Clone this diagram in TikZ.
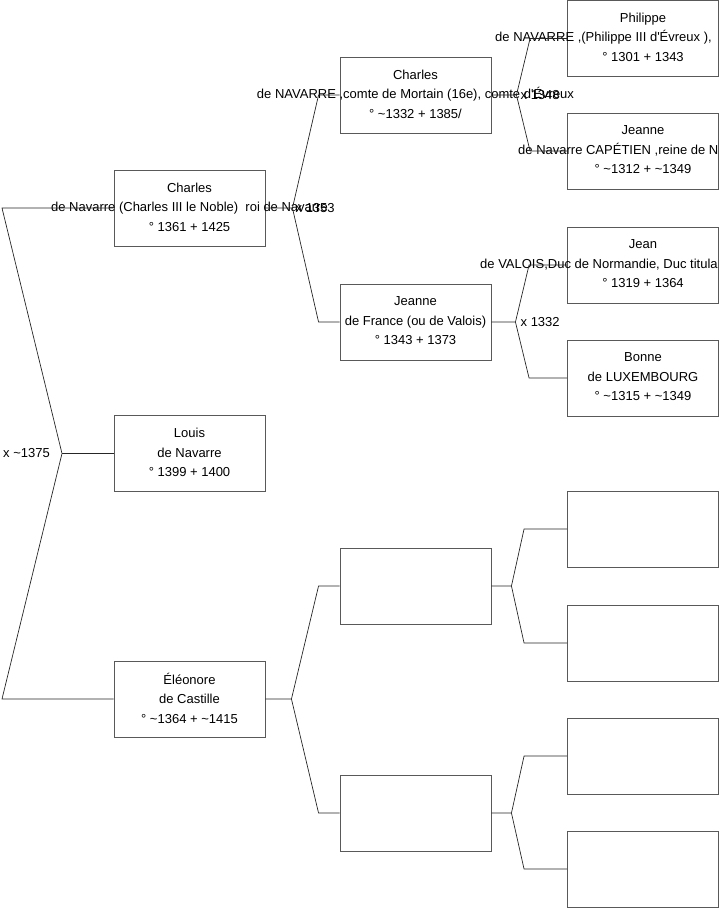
\documentclass[tikz,border=0pt]{standalone}
\usepackage{fontspec}
\setmainfont{Liberation Sans}
\usetikzlibrary{positioning,calc}

\begin{document}
\begin{tikzpicture}[
    x=1pt, y=-1pt,
    person/.style={rectangle, draw=black!65, line width=0.9pt, minimum width=151pt, minimum height=76pt, inner sep=0pt},
    txt/.style={align=center, inner sep=0pt, font=\fontsize{13}{19.5}\selectfont},
    wed/.style={inner sep=0pt, font=\fontsize{13}{15}\selectfont},
    link/.style={draw=black!85, line width=0.7pt}
]
\useasboundingbox (0,0) rectangle (719,908);

% Generation 1
\node[person] (charles) at (189.5,208) {};
\node[person] (louis) at (189.5,453.5) {};
\node[person] (eleonore) at (189.5,699) {};

% Generation 2
\node[person] (charlesII) at (415.5,95) {};
\node[person] (jeanneF) at (415.5,322) {};
\node[person] (emptyA) at (415.5,586) {};
\node[person] (emptyB) at (415.5,813) {};

% Generation 3
\node[person] (philippe) at (643,38.5) {};
\node[person] (jeanneN) at (643,151) {};
\node[person] (jean) at (643,265) {};
\node[person] (bonne) at (643,378) {};
\node[person] (emptyC) at (643,529) {};
\node[person] (emptyD) at (643,643) {};
\node[person] (emptyE) at (643,756) {};
\node[person] (emptyF) at (643,869) {};

% Names
\node[txt] (charles-t) at ([yshift=1pt]charles) {Charles\\de Navarre (Charles III le Noble)\ \ roi de Navarre\\° 1361 + 1425};
\node[txt] (louis-t) at ([yshift=1pt]louis) {Louis\\de Navarre\\° 1399 + 1400};
\node[txt] (eleonore-t) at ([yshift=1pt]eleonore) {Éléonore\\de Castille\\° \textasciitilde1364 + \textasciitilde1415};
\node[txt] (charlesII-t) at ([yshift=1pt]charlesII) {Charles\\de NAVARRE ,comte de Mortain (16e), comte d\textquotesingle Évreux\\° \textasciitilde1332 + 1385/};
\node[txt] (jeanneF-t) at ([yshift=1pt]jeanneF) {Jeanne\\de France (ou de Valois)\\° 1343 + 1373};
\node[txt] (philippe-t) at ([yshift=1pt]philippe) {Philippe\\\mbox{}\\° 1301 + 1343};
\node[txt, anchor=base west] (philippe-t2) at ($(philippe.center)+(-148,3)$) {de NAVARRE ,(Philippe III d\textquotesingle Évreux ),};
\node[txt] (jeanneN-t) at ([yshift=1pt]jeanneN) {Jeanne\\\mbox{}\\° \textasciitilde1312 + \textasciitilde1349};
\node[txt, anchor=base west] (jeanneN-t2) at ($(jeanneN.center)+(-125,3)$) {de Navarre CAPÉTIEN ,reine de N};
\node[txt] (jean-t) at ([yshift=1pt]jean) {Jean\\\mbox{}\\° 1319 + 1364};
\node[txt, anchor=base west] (jean-t2) at ($(jean.center)+(-163,3)$) {de VALOIS,Duc de Normandie, Duc titula};
\node[txt] (bonne-t) at ([yshift=1pt]bonne) {Bonne\\de LUXEMBOURG\\° \textasciitilde1315 + \textasciitilde1349};

% Forks
\coordinate (root) at (62,453.5);
\coordinate (rootup) at (2,208);
\coordinate (rootdn) at (2,699);
\coordinate[right=27pt of charles.east] (fch);
\coordinate[right=26pt of eleonore.east] (fel);
\coordinate[right=25pt of charlesII.east] (fcII);
\coordinate[right=24pt of jeanneF.east] (fjF);
\coordinate[right=20pt of emptyA.east] (fA);
\coordinate[right=20pt of emptyB.east] (fB);

% Lines
\draw[link] (charles.west) -- (rootup) -- (root) -- (rootdn) -- (eleonore.west);
\draw[link] (root) -- (louis.west);

\draw[link] (charles.east) -- (fch) -- ([xshift=-21pt]charlesII.west) -- (charlesII.west);
\draw[link] (fch) -- ([xshift=-21pt]jeanneF.west) -- (jeanneF.west);
\draw[link] (eleonore.east) -- (fel) -- ([xshift=-21pt]emptyA.west) -- (emptyA.west);
\draw[link] (fel) -- ([xshift=-21pt]emptyB.west) -- (emptyB.west);

\draw[link] (charlesII.east) -- (fcII) -- ([xshift=-37pt]philippe.west) -- (philippe.west);
\draw[link] (fcII) -- ([xshift=-37pt]jeanneN.west) -- (jeanneN.west);
\draw[link] (jeanneF.east) -- (fjF) -- ([xshift=-38pt]jean.west) -- (jean.west);
\draw[link] (fjF) -- ([xshift=-38pt]bonne.west) -- (bonne.west);
\draw[link] (emptyA.east) -- (fA) -- ([xshift=-43pt]emptyC.west) -- (emptyC.west);
\draw[link] (fA) -- ([xshift=-43pt]emptyD.west) -- (emptyD.west);
\draw[link] (emptyB.east) -- (fB) -- ([xshift=-43pt]emptyE.west) -- (emptyE.west);
\draw[link] (fB) -- ([xshift=-43pt]emptyF.west) -- (emptyF.west);

% Marriages
\node[wed, left=12pt of root] (m1375) {x \textasciitilde1375};
\node[wed, right=3pt of fch] (m1353) {x 1353};
\node[wed, right=4pt of fcII] (m1348) {x 1348};
\node[wed, right=5pt of fjF] (m1332) {x 1332};

\end{tikzpicture}
\end{document}
